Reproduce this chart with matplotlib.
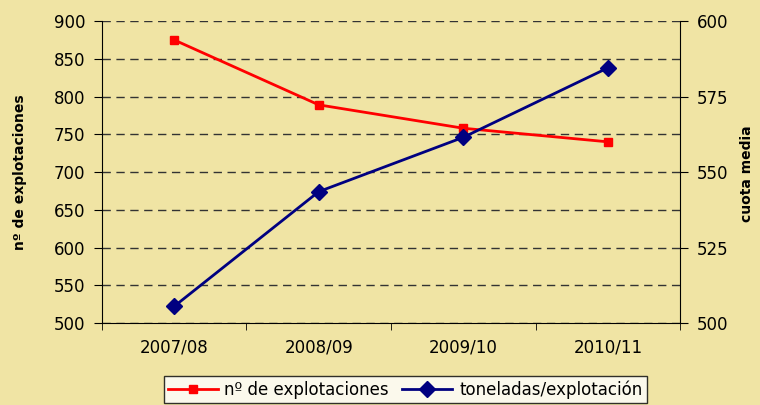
import matplotlib
matplotlib.use("Agg")
import matplotlib.pyplot as plt
from matplotlib.ticker import FixedLocator, NullFormatter

categories = ["2007/08", "2008/09", "2009/10", "2010/11"]
explotaciones = [875, 789, 758, 740]
toneladas = [505.5, 543.5, 561.5, 584.5]
left_ticks = [500, 550, 600, 650, 700, 750, 800, 850, 900]
right_ticks = [500, 525, 550, 575, 600]

bg = "#F0E4A4"
plt.rcParams['font.family'] = ['DejaVu Sans']

fig = plt.figure(figsize=(7.6, 4.05), dpi=100, facecolor=bg)
ax = fig.add_axes([0.134, 0.2025, 0.761, 0.7455])
ax.set_facecolor(bg)
ax2 = ax.twinx()

x = list(range(len(categories)))
l1, = ax.plot(x, explotaciones, color="#FF0000", lw=2, marker="s", ms=6,
              label="nº de explotaciones", zorder=3)
l2, = ax2.plot(x, toneladas, color="#000080", lw=2, marker="D", ms=8,
               label="toneladas/explotación", zorder=3)

ax.set_xlim(-0.5, 3.5)
ax.set_ylim(500, 900)
ax2.set_ylim(500, 600)
ax.set_yticks(left_ticks)
ax2.set_yticks(right_ticks)
ax.set_xticks(x)
ax.set_xticklabels(categories, fontsize=12)
ax.xaxis.set_minor_locator(FixedLocator([-0.5, 0.5, 1.5, 2.5, 3.5]))
ax.xaxis.set_minor_formatter(NullFormatter())
ax.tick_params(axis='x', which='major', length=0, pad=11)
ax.tick_params(axis='x', which='minor', length=5, direction='out', color='black')
ax.tick_params(axis='y', labelsize=12, length=6, direction='out', pad=6)
ax2.tick_params(axis='y', labelsize=12, length=6, direction='out', pad=6)

for y in left_ticks:
    ax.axhline(y, color="#333333", lw=1, ls=(0, (6, 4)), zorder=1)

for a in (ax, ax2):
    a.spines['top'].set_visible(False)
ax2.spines['left'].set_visible(False)
ax2.spines['bottom'].set_visible(False)
ax.spines['right'].set_visible(False)

fig.text(20/760, 1 - 172/405, "nº de explotaciones", rotation=90, fontsize=10,
         fontweight='bold', ha='center', va='center')
fig.text(747/760, 1 - 174/405, "cuota media", rotation=90, fontsize=10,
         fontweight='bold', ha='center', va='center')

leg = fig.legend([l1, l2], [l1.get_label(), l2.get_label()], loc='center',
                 bbox_to_anchor=(0.533, 0.038), ncol=2, fontsize=12,
                 frameon=True, fancybox=False, edgecolor='black',
                 handlelength=3.0, columnspacing=0.8, handletextpad=0.4,
                 borderpad=0.25)
leg.get_frame().set_linewidth(1)
leg.get_frame().set_facecolor('white')

fig.savefig("out.png", dpi=100, facecolor=bg)
